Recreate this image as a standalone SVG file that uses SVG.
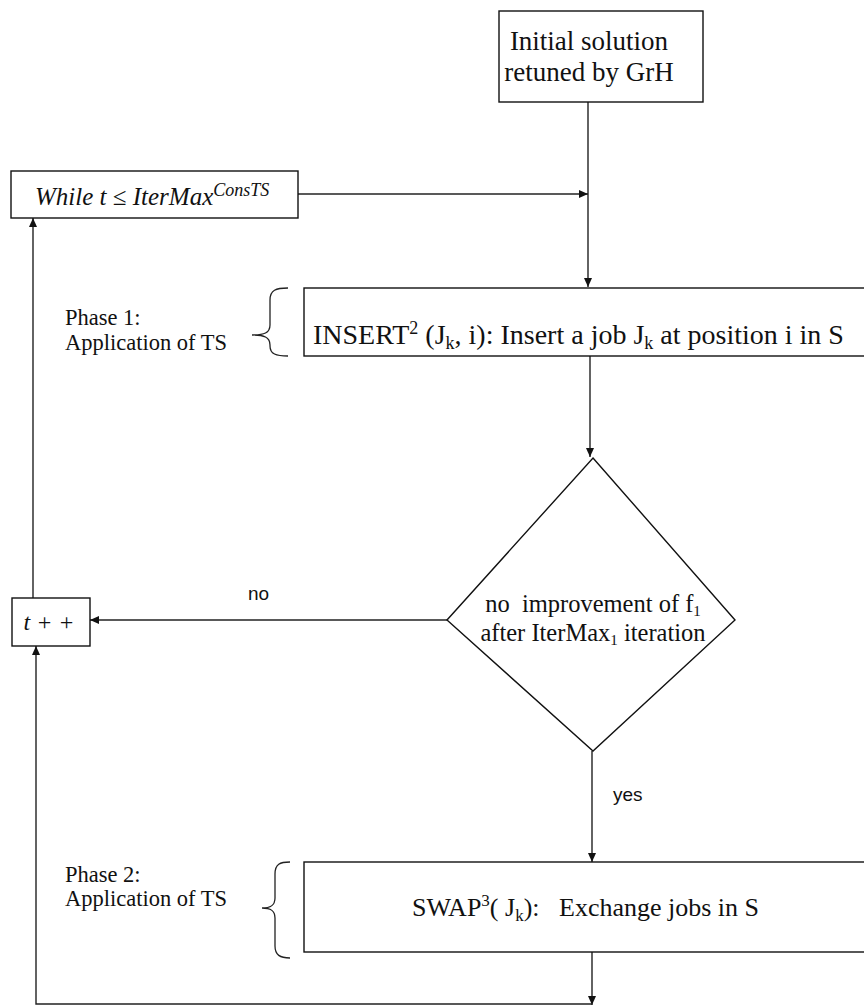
<svg xmlns="http://www.w3.org/2000/svg" width="864" height="1006" viewBox="0 0 864 1006">
<defs>
<marker id="ah" markerWidth="10" markerHeight="8" refX="9" refY="4" orient="auto" markerUnits="userSpaceOnUse">
<path d="M0,0 L9,4 L0,8 Z" fill="#111"/>
</marker>
<style>
.box{fill:#fff;stroke:#111;stroke-width:1.4}
.ln{fill:none;stroke:#222;stroke-width:1.4}
.br{fill:none;stroke:#222;stroke-width:1.3}
.t{font-family:"Liberation Serif","DejaVu Serif",serif;fill:#111;white-space:pre}
.m{font-family:"Liberation Serif","DejaVu Serif",serif;font-style:italic;fill:#111;white-space:pre}
.s{font-family:"Liberation Sans",Arial,sans-serif;fill:#111}
</style>
</defs>
<rect width="864" height="1006" fill="#fff"/>

<g id="connectors">
<line class="ln" x1="588" y1="102" x2="588" y2="287" marker-end="url(#ah)"/>
<line class="ln" x1="298" y1="194" x2="588" y2="194" marker-end="url(#ah)"/>
<line class="ln" x1="590" y1="356" x2="590" y2="457" marker-end="url(#ah)"/>
<line class="ln" x1="447" y1="620" x2="90" y2="620" marker-end="url(#ah)"/>
<line class="ln" x1="33" y1="598" x2="33" y2="218" marker-end="url(#ah)"/>
<line class="ln" x1="592" y1="751" x2="592" y2="862" marker-end="url(#ah)"/>
<line class="ln" x1="592" y1="952" x2="592" y2="1005" marker-end="url(#ah)"/>
<polyline class="ln" points="592,1004 36,1004 36,646" marker-end="url(#ah)"/>
<text class="s" x="248" y="600" font-size="19">no</text>
<text class="s" x="613" y="801" font-size="19">yes</text>
</g>

<g id="initial">
<rect class="box" x="499" y="11" width="204" height="91"/>
<text class="t" x="589" y="50" font-size="27" text-anchor="middle">Initial solution</text>
<text class="t" x="589" y="81" font-size="27" text-anchor="middle">retuned by GrH</text>
</g>

<g id="while">
<rect class="box" x="11" y="171" width="287" height="47"/>
<text class="m" x="35" y="205" font-size="25">While t ≤ IterMax<tspan font-size="18" dy="-9">ConsTS</tspan></text>
</g>

<g id="phase1">
<text class="t" x="65" y="325" font-size="22.5">Phase 1:</text>
<text class="t" x="65" y="350" font-size="22.5">Application of TS</text>
<path class="br" d="M288,288 C276,288 270,290 270,300 L270,325 C270,333 264,335 252,335 C264,335 270,337 270,345 L270,346 C270,354 276,356 288,356"/>
</g>

<g id="insert">
<rect class="box" x="304" y="288" width="570" height="68"/>
<text class="t" x="313" y="344" font-size="28">INSERT<tspan font-size="18" dy="-10">2</tspan><tspan dy="10"> (J</tspan><tspan font-size="18" dy="5">k</tspan><tspan dy="-5">, i): Insert a job J</tspan><tspan font-size="18" dy="5">k</tspan><tspan dy="-5"> at position i in S</tspan></text>
</g>

<g id="decision">
<polygon class="box" points="593,458 735,620 593,751 447,620"/>
<text class="t" x="593" y="612" font-size="24.5" text-anchor="middle">no  improvement of f<tspan font-size="15" dy="4">1</tspan></text>
<text class="t" x="593" y="641" font-size="24.5" text-anchor="middle">after IterMax<tspan font-size="15" dy="4">1</tspan><tspan dy="-4"> iteration</tspan></text>
</g>

<g id="tpp">
<rect class="box" x="12" y="598" width="78" height="48"/>
<text class="m" x="49" y="630" font-size="24" text-anchor="middle">t + +</text>
</g>

<g id="phase2">
<text class="t" x="65" y="882" font-size="22.5">Phase 2:</text>
<text class="t" x="65" y="906" font-size="22.5">Application of TS</text>
<path class="br" d="M290,862 C280,862 275,864 275,874 L275,898 C275,906 270,908 262,908 C270,908 275,910 275,918 L275,946 C275,955 280,958 290,958"/>
</g>

<g id="swap">
<rect class="box" x="304" y="862" width="570" height="90"/>
<text class="t" x="412" y="916" font-size="26">SWAP<tspan font-size="17" dy="-10">3</tspan><tspan dy="10">( J</tspan><tspan font-size="17" dy="5">k</tspan><tspan dy="-5">):   Exchange jobs in S</tspan></text>
</g>
</svg>
